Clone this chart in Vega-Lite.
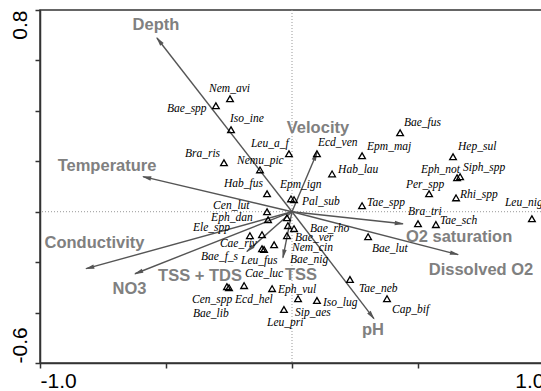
{
  "$schema": "https://vega.github.io/schema/vega-lite/v6.json",
  "width": 504,
  "height": 353,
  "autosize": {"type": "none"},
  "padding": {"left": 40, "top": 10, "right": 0, "bottom": 28},
  "background": "white",
  "config": {"view": {"stroke": "#333", "strokeWidth": 1.5}},
  "datasets": {
    "species": [
      {"name": "Nem_avi", "x": -0.246, "y": 0.448, "lx": -0.329, "ly": 0.487},
      {"name": "Bae_spp", "x": -0.302, "y": 0.420, "lx": -0.496, "ly": 0.408},
      {"name": "Iso_ine", "x": -0.242, "y": 0.325, "lx": -0.246, "ly": 0.368},
      {"name": "Leu_a_f", "x": -0.012, "y": 0.230, "lx": -0.163, "ly": 0.269},
      {"name": "Bra_ris", "x": -0.270, "y": 0.194, "lx": -0.425, "ly": 0.230},
      {"name": "Nemu_pic", "x": -0.127, "y": 0.166, "lx": -0.218, "ly": 0.202},
      {"name": "Hab_fus", "x": -0.099, "y": 0.071, "lx": -0.270, "ly": 0.111},
      {"name": "Ecd_ven", "x": 0.099, "y": 0.230, "lx": 0.103, "ly": 0.273},
      {"name": "Epm_maj", "x": 0.278, "y": 0.222, "lx": 0.298, "ly": 0.257},
      {"name": "Bae_fus", "x": 0.429, "y": 0.313, "lx": 0.444, "ly": 0.352},
      {"name": "Hep_sul", "x": 0.639, "y": 0.218, "lx": 0.659, "ly": 0.257},
      {"name": "Hab_lau", "x": 0.159, "y": 0.150, "lx": 0.183, "ly": 0.166},
      {"name": "Eph_not", "x": 0.655, "y": 0.135, "lx": 0.512, "ly": 0.166},
      {"name": "Siph_spp", "x": 0.667, "y": 0.139, "lx": 0.679, "ly": 0.174},
      {"name": "Epm_ign", "x": -0.004, "y": 0.051, "lx": -0.048, "ly": 0.107},
      {"name": "Pal_sub", "x": 0.008, "y": 0.048, "lx": 0.040, "ly": 0.040},
      {"name": "Per_spp", "x": 0.544, "y": 0.071, "lx": 0.452, "ly": 0.107},
      {"name": "Rhi_spp", "x": 0.651, "y": 0.055, "lx": 0.667, "ly": 0.067},
      {"name": "Leu_nig", "x": 0.952, "y": -0.028, "lx": 0.845, "ly": 0.036},
      {"name": "Tae_spp", "x": 0.278, "y": 0.024, "lx": 0.298, "ly": 0.036},
      {"name": "Bra_tri", "x": 0.500, "y": -0.048, "lx": 0.460, "ly": 0.000},
      {"name": "Tae_sch", "x": 0.571, "y": -0.051, "lx": 0.587, "ly": -0.036},
      {"name": "Bae_lut", "x": 0.302, "y": -0.099, "lx": 0.317, "ly": -0.147},
      {"name": "Tae_neb", "x": 0.230, "y": -0.269, "lx": 0.266, "ly": -0.305},
      {"name": "Cap_bif", "x": 0.377, "y": -0.345, "lx": 0.397, "ly": -0.388},
      {"name": "Iso_lug", "x": 0.099, "y": -0.352, "lx": 0.123, "ly": -0.364},
      {"name": "Sip_aes", "x": 0.024, "y": -0.345, "lx": 0.012, "ly": -0.400},
      {"name": "Leu_pri", "x": -0.032, "y": -0.388, "lx": -0.099, "ly": -0.440},
      {"name": "Eph_vul", "x": -0.079, "y": -0.305, "lx": -0.056, "ly": -0.309},
      {"name": "Cen_spp", "x": -0.258, "y": -0.297, "lx": -0.397, "ly": -0.349},
      {"name": "Bae_lib", "x": -0.250, "y": -0.301, "lx": -0.393, "ly": -0.404},
      {"name": "Ecd_hel", "x": -0.190, "y": -0.293, "lx": -0.226, "ly": -0.349},
      {"name": "Cen_lut", "x": -0.099, "y": 0.000, "lx": -0.313, "ly": 0.024},
      {"name": "Eph_dan", "x": -0.095, "y": -0.032, "lx": -0.321, "ly": -0.024},
      {"name": "Ele_spp", "x": -0.167, "y": -0.095, "lx": -0.393, "ly": -0.063},
      {"name": "Cae_riv", "x": -0.119, "y": -0.091, "lx": -0.286, "ly": -0.127},
      {"name": "Bae_f_s", "x": -0.119, "y": -0.147, "lx": -0.361, "ly": -0.178},
      {"name": "Leu_fus", "x": -0.111, "y": -0.150, "lx": -0.202, "ly": -0.194},
      {"name": "Cae_luc", "x": -0.071, "y": -0.131, "lx": -0.187, "ly": -0.246},
      {"name": "Bae_rho", "x": 0.008, "y": -0.067, "lx": 0.071, "ly": -0.067},
      {"name": "Bae_ver", "x": -0.020, "y": -0.095, "lx": 0.012, "ly": -0.103},
      {"name": "Nem_cin", "x": -0.016, "y": -0.055, "lx": 0.000, "ly": -0.143},
      {"name": "Bae_nig", "x": -0.020, "y": -0.024, "lx": -0.008, "ly": -0.190}
    ],
    "env": [
      {"name": "Depth", "x": -0.536, "y": 0.689, "lx": -0.540, "ly": 0.741},
      {"name": "Temperature", "x": -0.591, "y": 0.139, "lx": -0.734, "ly": 0.182},
      {"name": "Conductivity", "x": -0.817, "y": -0.226, "lx": -0.784, "ly": -0.123},
      {"name": "NO3", "x": -0.623, "y": -0.246, "lx": -0.645, "ly": -0.305},
      {"name": "TSS + TDS", "x": -0.179, "y": -0.158, "lx": -0.365, "ly": -0.253},
      {"name": "TSS", "x": -0.036, "y": -0.182, "lx": 0.036, "ly": -0.250},
      {"name": "Velocity", "x": 0.099, "y": 0.234, "lx": 0.103, "ly": 0.333},
      {"name": "O2 saturation", "x": 0.440, "y": -0.048, "lx": 0.663, "ly": -0.099},
      {"name": "Dissolved O2", "x": 0.659, "y": -0.170, "lx": 0.750, "ly": -0.230},
      {"name": "pH", "x": 0.325, "y": -0.424, "lx": 0.321, "ly": -0.471}
    ]
  },
  "layer": [
    {
      "data": {"values": [{"v": 0}]},
      "mark": {"type": "rule", "color": "#999", "strokeWidth": 1, "strokeDash": [1, 2]},
      "encoding": {
        "x": {"field": "v", "type": "quantitative", "scale": {"domain": [-1, 1], "nice": false, "zero": false},
          "axis": {"values": [-1, -0.5, 0, 0.5, 1], "labelExpr": "datum.value == -1 ? '-1.0' : (datum.value == 1 ? '1.0' : '')",
            "labelFlush": true, "labelOverlap": false, "grid": false, "title": null,
            "domainColor": "#333", "domainWidth": 1.5, "tickColor": "#333", "tickWidth": 1.5, "tickSize": 5,
            "labelFont": "Liberation Sans", "labelFontSize": 21, "labelColor": "black", "labelPadding": 2}}
      }
    },
    {
      "data": {"values": [{"v": 0}]},
      "mark": {"type": "rule", "color": "#999", "strokeWidth": 1, "strokeDash": [1, 2]},
      "encoding": {
        "y": {"field": "v", "type": "quantitative", "scale": {"domain": [-0.6, 0.8], "nice": false, "zero": false},
          "axis": {"values": [-0.6, -0.4, -0.2, 0, 0.2, 0.4, 0.6, 0.8], "labelExpr": "datum.value < -0.5 ? '-0.6' : (datum.value > 0.7 ? '0.8' : '')",
            "labelAngle": -90, "labelAlign": {"condition": {"test": "datum.value > 0", "value": "right"}, "value": "left"},
            "labelBaseline": "bottom", "labelFlush": false, "labelOverlap": false, "grid": false, "title": null, "labelOffset": 0,
            "domainColor": "#333", "domainWidth": 1.5, "tickColor": "#333", "tickWidth": 1.5, "tickSize": 5,
            "labelFont": "Liberation Sans", "labelFontSize": 21, "labelColor": "black", "labelPadding": 5}}
      }
    },
    {
      "data": {"name": "env"},
      "mark": {"type": "rule", "color": "#555", "strokeWidth": 1.4},
      "encoding": {
        "x": {"field": "x", "type": "quantitative"},
        "y": {"field": "y", "type": "quantitative"},
        "x2": {"datum": 0},
        "y2": {"datum": 0}
      }
    },
    {
      "data": {"name": "env"},
      "transform": [{"calculate": "atan2(datum.x, datum.y) * 180 / PI", "as": "ang"}],
      "mark": {"type": "point", "shape": "M0,-0.3L0.6,2.2L-0.6,2.2Z", "filled": true, "color": "#555", "size": 55, "opacity": 1},
      "encoding": {
        "x": {"field": "x", "type": "quantitative"},
        "y": {"field": "y", "type": "quantitative"},
        "angle": {"field": "ang", "type": "quantitative", "scale": null}
      }
    },
    {
      "data": {"name": "env"},
      "mark": {"type": "text", "align": "center", "baseline": "middle", "font": "Liberation Sans", "fontWeight": "bold", "fontSize": 16.5, "color": "#808080"},
      "encoding": {
        "x": {"field": "lx", "type": "quantitative"},
        "y": {"field": "ly", "type": "quantitative"},
        "text": {"field": "name"}
      }
    },
    {
      "data": {"name": "species"},
      "mark": {"type": "point", "shape": "triangle-up", "filled": false, "color": "black", "strokeWidth": 1.3, "size": 45, "opacity": 1},
      "encoding": {
        "x": {"field": "x", "type": "quantitative"},
        "y": {"field": "y", "type": "quantitative"}
      }
    },
    {
      "data": {"name": "species"},
      "mark": {"type": "text", "align": "left", "baseline": "middle", "font": "Liberation Serif, Times New Roman, serif", "fontStyle": "italic", "fontSize": 11.5, "color": "black"},
      "encoding": {
        "x": {"field": "lx", "type": "quantitative"},
        "y": {"field": "ly", "type": "quantitative"},
        "text": {"field": "name"}
      }
    }
  ]
}
